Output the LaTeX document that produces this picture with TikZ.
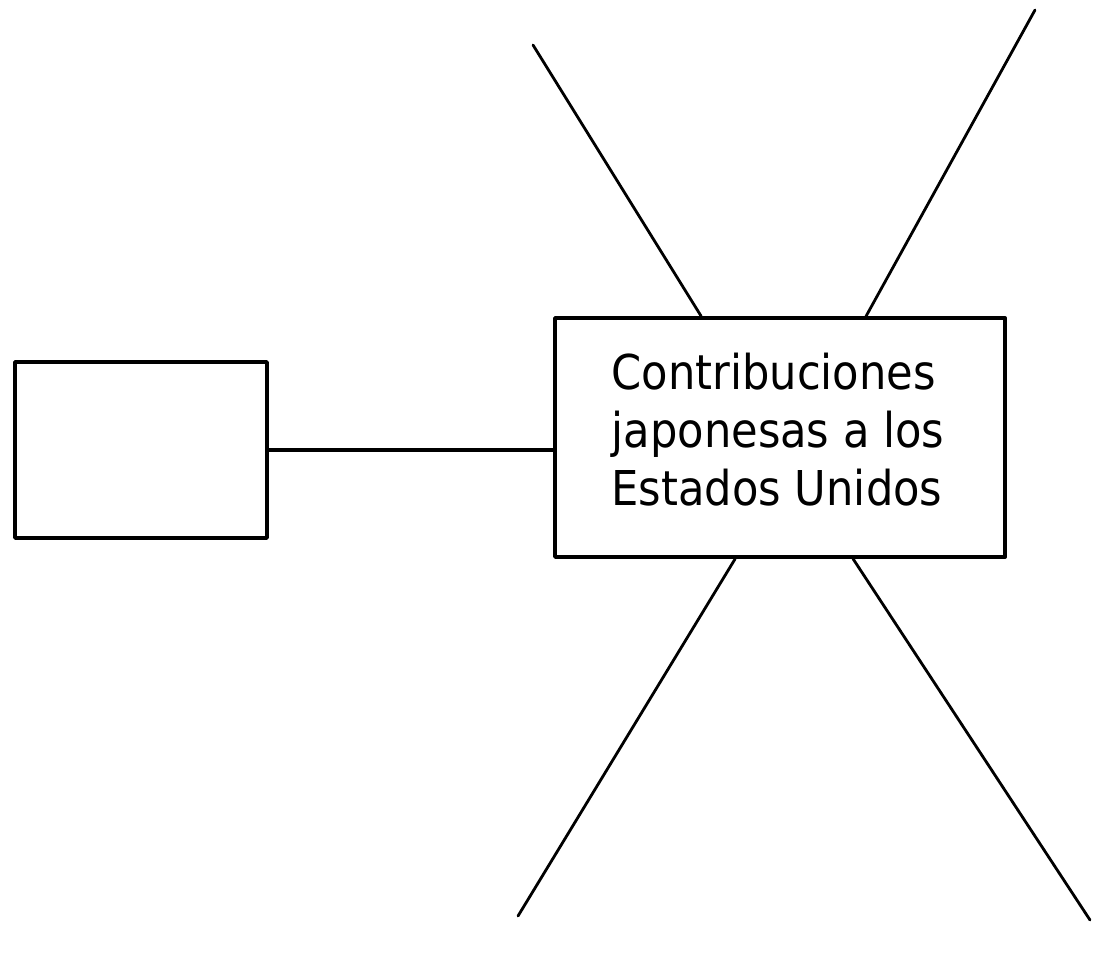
\documentclass[tikz,border=0pt]{standalone}
\usepackage{fontspec}
\setmainfont{DejaVu Sans}
\usetikzlibrary{calc}
\begin{document}
\begin{tikzpicture}[x=1pt,y=-1pt,
  boxstyle/.style={draw,line width=3.8pt,inner sep=0pt,line join=round},
  ray/.style={line width=2.8pt,line cap=round},
  link/.style={line width=3.2pt}]
\useasboundingbox (0,0) rectangle (1107,962);
\node[boxstyle,minimum width=450pt,minimum height=239pt] (big) at (780,437.5) {};
\node[font=\fontsize{48}{58}\selectfont,align=left,inner sep=0pt] (txt) at ($(big.center)+(-2,-8)$)
  {\scalebox{0.9}[1]{Contribuciones}\\\scalebox{0.9}[1]{japonesas a los}\\\scalebox{0.9}[1]{Estados Unidos}};
\node[boxstyle,minimum width=252pt,minimum height=176pt] (small) at (141,450) {};
\draw[link] (small.east) -- (small.east -| big.west);
\coordinate (tl) at (533,45);
\coordinate (tr) at (1035,10);
\coordinate (bl) at (518,916);
\coordinate (br) at (1090,920);
\draw[ray] (tl) -- ($(big.north west)+(148,0)$);
\draw[ray] (tr) -- ($(big.north west)+(313,0)$);
\draw[ray] (bl) -- ($(big.south west)+(182,0)$);
\draw[ray] (br) -- ($(big.south west)+(300,0)$);
\end{tikzpicture}
\end{document}
